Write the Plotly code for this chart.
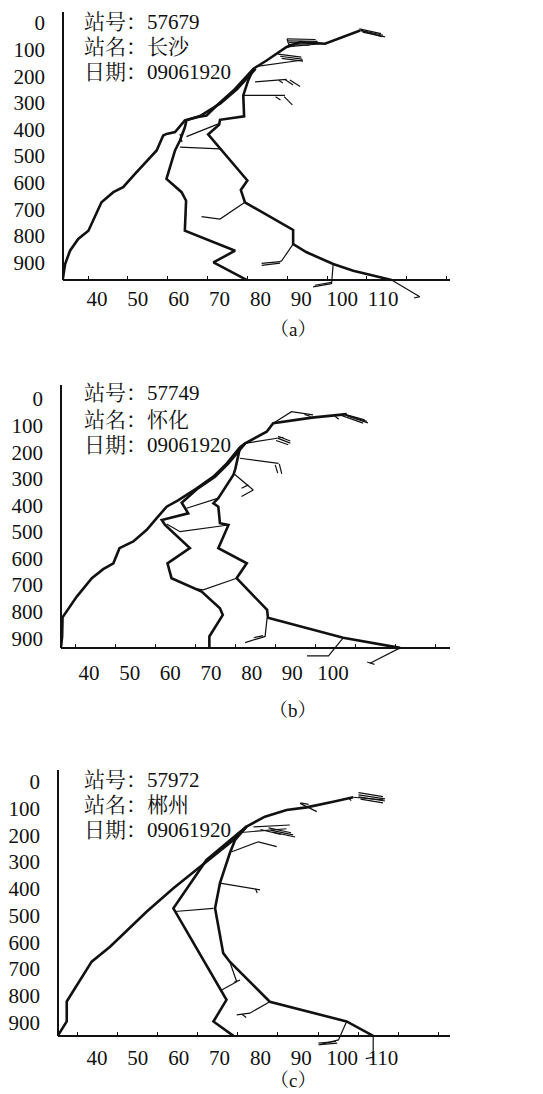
import plotly.graph_objects as go

W, H = 543, 1094

# ---------------- Panel (a) : 57679 长沙 ----------------
A_LEFT_X = [31.6, 32.2, 33.4, 35.4, 37.9, 41.1, 44.0, 46.4, 49.3, 52.2, 54.6, 56.2, 57.0, 59.1, 61.5, 64.4, 66.8, 69.3, 73.4, 78.3, 81.5, 86.4, 89.7, 95.8, 104.4]
A_LEFT_P = [966, 906, 856, 812, 781, 674, 636, 617, 567, 517, 479, 423, 417, 410, 366, 354, 348, 310, 254, 172, 141, 90, 72, 78, 28]
A_MID_X = [76.6, 68.5, 73.8, 67.7, 61.5, 61.8, 60.7, 57.0, 59.1, 60.3, 61.5, 61.9, 65.2, 70.2, 74.3, 78.8]
A_MID_P = [966, 900, 856, 818, 781, 668, 636, 586, 479, 442, 392, 366, 350, 302, 248, 172]
A_RIGHT_X = [112.1, 102.7, 97.8, 91.3, 88.0, 88.0, 76.2, 75.2, 76.8, 70.1, 67.2, 69.9, 70.1, 76.0, 75.8, 77.0, 78.3]
A_RIGHT_P = [966, 931, 906, 862, 831, 778, 674, 628, 592, 473, 419, 382, 364, 351, 272, 216, 172]
A_WIND = [
    ([60.3, 70.1], [467, 473]),
    ([69.7, 61.9], [379, 427]),
    ([60.3, 60.8], [417, 448]),
    ([76.2, 70.1, 65.6], [674, 737, 728]),
    ([88.0, 85.2, 84.8], [831, 894, 897]),
    ([80.3, 84.8], [904, 897]), ([80.3, 84.8], [911, 903]),
    ([97.8, 97.4], [906, 981]),
    ([92.9, 97.4], [992, 980]), ([93.3, 97.4], [986, 975]),
    ([112.1, 119.0], [966, 1029]), ([117.6, 119.0], [1034, 1029]),
    ([75.8, 86.0], [272, 272]), ([83.7, 84.9], [277, 289]), ([85.8, 87.8], [277, 308]),
    ([78.7, 86.4], [221, 212]), ([86.0, 88.0], [212, 233]), ([87.2, 89.7], [214, 239]), ([84.5, 85.5], [215, 226]),
    ([78.7, 90.4], [164, 139]), ([84.3, 90.0], [117, 128]), ([84.8, 90.2], [125, 136]), ([85.2, 90.4], [133, 143]),
    ([86.4, 96.2], [90, 76]), ([86.5, 93.5], [60, 62]), ([86.5, 94.0], [67, 69]), ([87.0, 94.0], [74, 76]),
    ([87.0, 92.0], [81, 83]), ([86.5, 87.0], [60, 84]),
    ([104.4, 109.7], [28, 51]), ([104.2, 109.5], [22, 40]), ([104.6, 110.0], [28, 46]), ([105.0, 110.5], [34, 52]),
]

# ---------------- Panel (b) : 57749 怀化 ----------------
B_LEFT_X = [33.1, 33.4, 33.5, 37.0, 40.7, 43.5, 46.0, 47.5, 50.9, 54.2, 56.6, 59.1, 62.0, 66.5, 70.6, 73.9, 77.1, 78.4, 83.7, 85.3, 94.8, 103.4]
B_LEFT_P = [936, 893, 821, 743, 674, 640, 618, 561, 536, 492, 449, 405, 380, 336, 292, 242, 182, 167, 123, 91, 70, 57]
B_MID_X = [69.6, 69.6, 72.9, 72.2, 67.7, 60.3, 59.3, 64.8, 58.7, 57.9, 64.4, 62.8, 66.8, 71.0, 74.3, 77.5, 78.4]
B_MID_P = [936, 893, 812, 787, 724, 674, 618, 561, 474, 455, 430, 390, 336, 292, 242, 182, 167]
B_RIGHT_X = [116.5, 102.5, 84.0, 83.8, 76.3, 78.8, 71.8, 74.3, 72.2, 71.8, 70.6, 71.8, 75.5, 76.0, 77.1, 78.4]
B_RIGHT_P = [936, 898, 823, 793, 674, 618, 561, 474, 467, 405, 392, 373, 286, 262, 185, 167]
B_WIND = [
    ([71.8, 64.0], [373, 411]),
    ([74.3, 62.4, 59.1], [474, 499, 470]),
    ([76.3, 68.1, 65.7], [674, 718, 712]), ([66.0, 67.5], [713, 722]),
    ([83.8, 83.3, 78.4], [823, 893, 916]), ([80.5, 82.8], [898, 890]),
    ([102.5, 98.9, 93.6], [898, 966, 966]),
    ([116.5, 109.1], [936, 994]), ([108.4, 110.2], [989, 998]),
    ([75.5, 80.4], [279, 342]), ([79.2, 77.5], [323, 336]), ([80.4, 77.5], [342, 367]),
    ([77.1, 86.6], [223, 242]), ([85.8, 86.4], [248, 279]), ([86.8, 87.4], [244, 282]),
    ([78.4, 87.8], [167, 144]), ([86.5, 89.5], [140, 158]), ([86.5, 89.5], [148, 166]), ([86.0, 89.0], [156, 172]),
    ([85.3, 89.8, 95.1], [91, 48, 60]), ([93.0, 94.5], [58, 66]),
    ([101.7, 107.4], [60, 91]), ([102.5, 107.8], [56, 78]), ([103.0, 108.3], [60, 84]), ([103.5, 108.6], [64, 90]),
    ([100.3, 101.4], [62, 76]),
]

# ---------------- Panel (c) : 57972 郴州 ----------------
C_LEFT_X = [30.4, 32.6, 32.6, 38.7, 43.2, 52.2, 58.7, 65.2, 69.3, 73.4, 76.6, 81.1, 86.4, 91.3, 97.8, 102.7]
C_LEFT_P = [951, 897, 822, 673, 617, 485, 398, 317, 267, 217, 167, 130, 105, 95, 74, 57]
C_MID_X = [73.4, 68.5, 71.7, 59.1, 58.7, 66.8, 71.7, 76.6]
C_MID_P = [951, 897, 816, 485, 473, 292, 230, 167]
C_RIGHT_X = [107.6, 101.1, 82.3, 72.5, 70.9, 68.9, 70.1, 72.5, 73.8, 76.6]
C_RIGHT_P = [951, 897, 823, 673, 641, 473, 379, 267, 217, 167]
C_WIND = [
    ([59.1, 68.5], [485, 473]),
    ([70.1, 79.9], [379, 404]), ([78.8, 79.2], [400, 416]),
    ([73.0, 79.5, 84.0], [261, 224, 242]),
    ([74.5, 86.4], [190, 175]), ([78.3, 87.2], [168, 161]),
    ([82.0, 87.5], [172, 190]), ([82.5, 88.0], [180, 198]), ([83.0, 88.5], [188, 206]), ([80.0, 85.0], [178, 196]),
    ([89.7, 93.8], [80, 111]), ([89.8, 91.8], [78, 84]),
    ([102.7, 110.1], [57, 67]), ([104.0, 110.0], [40, 55]), ([104.0, 110.5], [48, 63]), ([104.0, 110.5], [56, 71]),
    ([104.5, 110.0], [64, 78]), ([101.5, 102.2], [58, 70]),
    ([72.5, 74.2, 70.5], [673, 748, 779]), ([73.5, 75.0], [750, 742]),
    ([82.3, 77.4, 74.2], [823, 866, 872]), ([75.5, 76.5], [870, 882]),
    ([101.1, 99.1, 94.2], [897, 966, 985]), ([94.2, 98.5], [978, 972]), ([94.6, 98.8], [984, 978]),
    ([107.6, 107.6], [951, 1041]), ([105.8, 107.6], [1036, 1031]),
]

TICK_P = [0, 100, 200, 300, 400, 500, 600, 700, 800, 900]
TICK_X_A = [40, 50, 60, 70, 80, 90, 100, 110]
TICK_X_B = [40, 50, 60, 70, 80, 90, 100]
TICK_X_C = [40, 50, 60, 70, 80, 90, 100, 110]

STATION_IDS = ["57679", "57749", "57972"]
STATION_NAMES = ["长沙", "怀化", "郴州"]
DATES = ["09061920", "09061920", "09061920"]
CAPTIONS = ["（a）", "（b）", "（c）"]

PANELS = [
    dict(left=A_LEFT_X, leftp=A_LEFT_P, mid=A_MID_X, midp=A_MID_P, right=A_RIGHT_X, rightp=A_RIGHT_P,
         wind=A_WIND, xt=TICK_X_A, px0=63, px1=450, ptop=12, pbot=310, paxis=280,
         xr=[31.68, 126.39], yr=[1079, -41.4], text_y=[22, 47, 72], cap_y=330, standoff=0,
         xminor0=37.8, xminor_d=9.75),
    dict(left=B_LEFT_X, leftp=B_LEFT_P, mid=B_MID_X, midp=B_MID_P, right=B_RIGHT_X, rightp=B_RIGHT_P,
         wind=B_WIND, xt=TICK_X_B, px0=61, px1=450, ptop=385, pbot=675, paxis=648,
         xr=[33.12, 128.77], yr=[1038, -52.6], text_y=[393, 420, 445], cap_y=710, standoff=6,
         xminor0=36.8, xminor_d=9.83),
    dict(left=C_LEFT_X, leftp=C_LEFT_P, mid=C_MID_X, midp=C_MID_P, right=C_RIGHT_X, rightp=C_RIGHT_P,
         wind=C_WIND, xt=TICK_X_C, px0=58, px1=450, ptop=770, pbot=1065, paxis=1036,
         xr=[30.46, 126.4], yr=[1060, -45], text_y=[780, 805, 830], cap_y=1080, standoff=3,
         xminor0=35.3, xminor_d=9.8),
]

SERIF = "Liberation Serif, Noto Serif CJK SC, Noto Sans CJK SC, serif"
INK = "#111111"

fig = go.Figure()
shapes = []
annotations = []

for i, pn in enumerate(PANELS):
    n = "" if i == 0 else str(i + 1)
    xa, ya = "x" + n, "y" + n
    for xs, ps in [(pn["left"], pn["leftp"]), (pn["mid"], pn["midp"]), (pn["right"], pn["rightp"])]:
        fig.add_trace(go.Scatter(x=xs, y=ps, mode="lines", xaxis=xa, yaxis=ya,
                                 line=dict(color=INK, width=2.6), showlegend=False, hoverinfo="skip"))
    wx, wp = [], []
    for xs, ps in pn["wind"]:
        wx += list(xs) + [None]
        wp += list(ps) + [None]
    fig.add_trace(go.Scatter(x=wx, y=wp, mode="lines", xaxis=xa, yaxis=ya,
                             line=dict(color=INK, width=1.2), showlegend=False, hoverinfo="skip"))

    fig.layout["xaxis" + n] = dict(
        domain=[pn["px0"] / W, pn["px1"] / W], range=pn["xr"], anchor="free",
        position=1 - pn["paxis"] / H, showline=True, linewidth=2, linecolor=INK,
        showgrid=False, zeroline=False, tickvals=pn["xt"], ticks="",
        minor=dict(ticks="inside", tick0=pn["xminor0"], dtick=pn["xminor_d"], ticklen=3,
                   tickcolor=INK, tickwidth=1, showgrid=False),
        ticklabelstandoff=pn["standoff"], tickfont=dict(family=SERIF, size=21, color=INK))
    fig.layout["yaxis" + n] = dict(
        domain=[1 - pn["pbot"] / H, 1 - pn["ptop"] / H], range=pn["yr"], anchor=xa,
        showline=False, showgrid=False, zeroline=False, tickvals=TICK_P, ticks="",
        ticklabelstandoff=17, tickfont=dict(family=SERIF, size=21, color=INK))

    x_edge = pn["px0"] / W
    shapes.append(dict(type="line", xref="paper", yref="paper", x0=x_edge, x1=x_edge,
                       y0=1 - pn["ptop"] / H, y1=1 - pn["paxis"] / H,
                       line=dict(color=INK, width=2)))

    lines = ["站号：" + STATION_IDS[i], "站名：" + STATION_NAMES[i], "日期：" + DATES[i]]
    for t, ty in zip(lines, pn["text_y"]):
        annotations.append(dict(text=t, xref="paper", yref="paper", x=82 / W, y=1 - ty / H,
                                xanchor="left", yanchor="middle", showarrow=False,
                                font=dict(family=SERIF, size=21, color=INK)))
    annotations.append(dict(text=CAPTIONS[i], xref="paper", yref="paper", x=293 / W, y=1 - pn["cap_y"] / H,
                            xanchor="center", yanchor="middle", showarrow=False,
                            font=dict(family=SERIF, size=19, color=INK)))

fig.update_layout(width=W, height=H, margin=dict(l=0, r=0, t=0, b=0),
                  paper_bgcolor="white", plot_bgcolor="white",
                  shapes=shapes, annotations=annotations)

fig.write_html("out.html")
